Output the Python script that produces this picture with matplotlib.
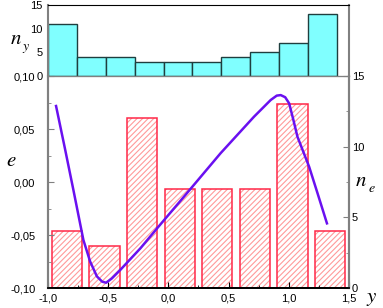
import numpy as np
import matplotlib
matplotlib.use("Agg")
import matplotlib.pyplot as plt
from matplotlib.ticker import FuncFormatter, MultipleLocator

plt.rcParams['font.family'] = ['Liberation Sans', 'DejaVu Sans']
plt.rcParams['mathtext.fontset'] = 'stix'
plt.rcParams['hatch.linewidth'] = 0.8

# top histogram n_y (bins of width 0.24 starting at -1.0)
ny_left = [-1.0, -0.76, -0.52, -0.28, -0.04, 0.20, 0.44, 0.68, 0.92, 1.16]
ny = [11, 4, 4, 3, 3, 3, 4, 5, 7, 13]

# bottom histogram n_e
ne_center = [-0.844, -0.531, -0.219, 0.094, 0.406, 0.719, 1.031, 1.344]
ne = [4, 3, 12, 7, 7, 7, 13, 4]

# curve e(y)
y_line = [-0.933, -0.86, -0.789, -0.706, -0.65, -0.594, -0.55, -0.517, -0.47,
          -0.40, -0.233, -0.094, 0.094, 0.433, 0.711, 0.85, 0.90, 0.933,
          0.97, 1.003, 1.035, 1.072, 1.169, 1.239, 1.317]
e_line = [0.0717, 0.032, -0.0075, -0.0547, -0.075, -0.089, -0.094, -0.095,
          -0.091, -0.083, -0.0626, -0.0437, -0.0186, 0.0271, 0.0616, 0.0774,
          0.0815, 0.082, 0.080, 0.0742, 0.060, 0.0427, 0.0144, -0.0107, -0.039]

GREY = '#808080'

fig = plt.figure(figsize=(3.83, 3.08), dpi=100)
ax_top = fig.add_axes([0.1253, 0.7532, 0.7859, 0.2305])
ax = fig.add_axes([0.1253, 0.0649, 0.7859, 0.6883])
ax2 = ax.twinx()

# top panel
ax_top.bar(ny_left, ny, width=0.24, align='edge', color='#80ffff',
           edgecolor='#1f3f3f', linewidth=1)
ax_top.set_xlim(-1.0, 1.5)
ax_top.set_ylim(0, 15)
ax_top.set_yticks([0, 5, 10, 15])
ax_top.set_xticks([])
ax_top.tick_params(axis='y', length=0, pad=4, labelsize=8)
ax_top.spines['top'].set_color('black')
for s in ['left', 'right', 'bottom']:
    ax_top.spines[s].set_color(GREY)
ax_top.spines['left'].set_linewidth(1.5)
ax_top.spines['right'].set_linewidth(1.5)

# bottom bars on the right axis
ax2.bar(ne_center, ne, width=0.25, facecolor='white', edgecolor='#ff9a9a',
        hatch='//////', linewidth=0)
ax2.bar(ne_center, ne, width=0.25, fill=False, edgecolor='#ff2848',
        linewidth=1.1)
ax2.set_ylim(0, 15)
ax2.yaxis.set_major_locator(MultipleLocator(5))
ax2.yaxis.set_minor_locator(MultipleLocator(2.5))
ax2.tick_params(axis='y', which='both', direction='in', color=GREY,
                labelsize=8, pad=2)
ax2.tick_params(axis='y', which='major', length=4)
ax2.tick_params(axis='y', which='minor', length=2.5)

# line on top of bars
ax.set_zorder(ax2.get_zorder() + 1)
ax.patch.set_visible(False)
ax.plot(y_line, e_line, color='#6a10f0', linewidth=1.8)
ax.set_xlim(-1.0, 1.5)
ax.set_ylim(-0.10, 0.10)
ax.xaxis.set_major_locator(MultipleLocator(0.5))
ax.xaxis.set_minor_locator(MultipleLocator(0.25))
ax.yaxis.set_major_locator(MultipleLocator(0.05))
ax.yaxis.set_minor_locator(MultipleLocator(0.025))
ax.xaxis.set_major_formatter(FuncFormatter(lambda v, p: f'{v:.1f}'.replace('.', ',')))
ax.yaxis.set_major_formatter(FuncFormatter(lambda v, p: f'{v:.2f}'.replace('.', ',')))
ax.tick_params(axis='x', which='both', direction='in', labelsize=8, pad=4)
ax.tick_params(axis='y', which='both', direction='in', color=GREY,
               labelsize=8, pad=9)
ax.tick_params(which='major', length=4)
ax.tick_params(which='minor', length=2.5)

for a in (ax, ax2):
    a.spines['left'].set_color(GREY)
    a.spines['left'].set_linewidth(1.5)
    a.spines['right'].set_color(GREY)
    a.spines['right'].set_linewidth(1.5)
    a.spines['top'].set_color(GREY)
    a.spines['bottom'].set_color('black')
    a.spines['bottom'].set_linewidth(1.3)

# axis labels
fig.text(0.025, 0.875, '$n$', fontsize=15, ha='left', va='center')
fig.text(0.058, 0.845, '$y$', fontsize=10, ha='left', va='center')
fig.text(0.015, 0.48, '$e$', fontsize=15, ha='left', va='center')
fig.text(0.927, 0.415, '$n$', fontsize=15, ha='left', va='center')
fig.text(0.962, 0.39, '$e$', fontsize=10, ha='left', va='center')
fig.text(0.955, 0.03, '$y$', fontsize=15, ha='left', va='center')

fig.savefig('out.png', dpi=100)
